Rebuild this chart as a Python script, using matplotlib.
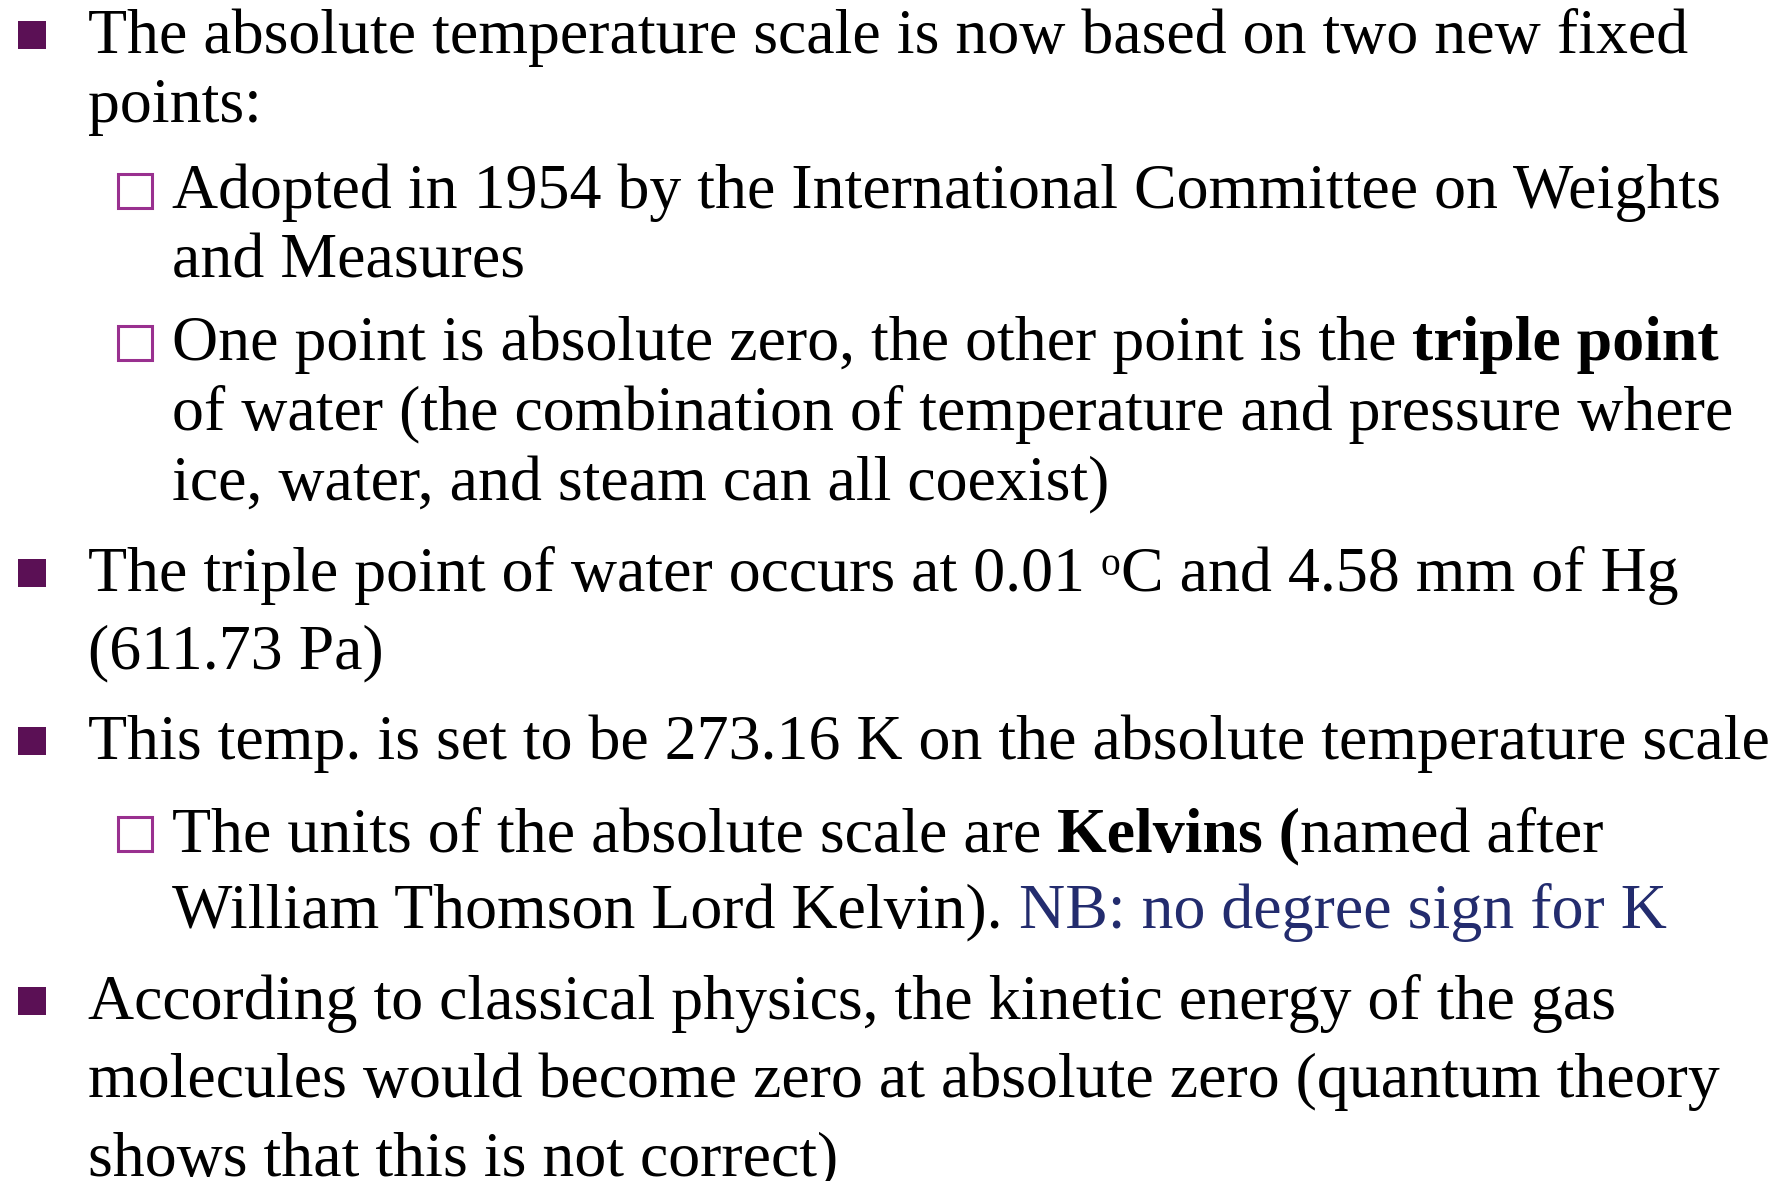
#!/usr/bin/env python3
"""Slide: absolute temperature scale, rebuilt as matplotlib text."""
import matplotlib
matplotlib.use("Agg")
import matplotlib.pyplot as plt
from matplotlib.patches import Rectangle

# ---- slide content -------------------------------------------------------
# each line: (bullet, list of runs); bullet 1 = filled square, 2 = hollow box,
# 0 = continuation line.  Run style: "n" normal, "b" bold, "sup" superscript,
# "blue" coloured note.
line_indent = [1, 1, 2, 2, 2, 2, 2, 1, 1, 1, 2, 2, 1, 1, 1]
line_bullet = [1, 0, 2, 0, 2, 0, 0, 1, 0, 1, 2, 0, 1, 0, 0]
line_runs = [
    [("The absolute temperature scale is now based on two new fixed", "n")],
    [("points:", "n")],
    [("Adopted in 1954 by the International Committee on Weights", "n")],
    [("and Measures", "n")],
    [("One point is absolute zero, the other point is the ", "n"),
     ("triple point", "b")],
    [("of water (the combination of temperature and pressure where", "n")],
    [("ice, water, and steam can all coexist)", "n")],
    [("The triple point of water occurs at 0.01 ", "n"), ("o", "sup"),
     ("C and 4.58 mm of Hg", "n")],
    [("(611.73 Pa)", "n")],
    [("This temp. is set to be 273.16 K on the absolute temperature scale", "n")],
    [("The units of the absolute scale are ", "n"), ("Kelvins (", "b"),
     ("named after", "n")],
    [("William Thomson Lord Kelvin). ", "n"),
     ("NB: no degree sign for K", "blue")],
    [("According to classical physics, the kinetic energy of the gas", "n")],
    [("molecules would become zero at absolute zero (quantum theory", "n")],
    [("shows that this is not correct)", "n")],
]

# ---- layout (pixels of the 1789x1181 slide) --------------------------------
W, H = 1789, 1181
baselines = [53, 122, 208, 278, 360, 430, 500, 591, 668, 759, 851, 928,
             1019, 1097, 1175]
text_x = {1: 88, 2: 172}
FS = 46
FONT = "Liberation Serif"
BULLET_FILL = "#5B1055"
BULLET_BOX = "#99308F"
NOTE_BLUE = "#232C6E"

styles = {
    "n": dict(fontsize=FS, color="black"),
    "b": dict(fontsize=FS, color="black", fontweight="bold"),
    "sup": dict(fontsize=FS * 0.62, color="black"),
    "blue": dict(fontsize=FS, color=NOTE_BLUE),
}

fig = plt.figure(figsize=(W / 100, H / 100), dpi=100)
ax = fig.add_axes([0, 0, 1, 1])
ax.set_xlim(0, W)
ax.set_ylim(H, 0)
ax.axis("off")
renderer = fig.canvas.get_renderer()


def advance(s, kw):
    # width of s including leading/trailing blanks, via sentinel letters
    t = ax.text(0, 0, "x" + s + "x", family=FONT, **kw)
    w1 = t.get_window_extent(renderer).width
    t.remove()
    t = ax.text(0, 0, "xx", family=FONT, **kw)
    w0 = t.get_window_extent(renderer).width
    t.remove()
    return w1 - w0


for ind, bul, runs, y in zip(line_indent, line_bullet, line_runs, baselines):
    if bul == 1:
        ax.add_patch(Rectangle((18, y - 32), 28, 28, facecolor=BULLET_FILL,
                               edgecolor="none"))
    elif bul == 2:
        ax.add_patch(Rectangle((117.5, y - 34.5), 34, 34, facecolor="none",
                               edgecolor=BULLET_BOX, linewidth=2.2))
    x = text_x[ind]
    for s, st in runs:
        kw = styles[st]
        dy = -16 if st == "sup" else 0
        ax.text(x, y + dy, s, family=FONT, ha="left", va="baseline", **kw)
        x += advance(s, kw)

fig.savefig("out.png", dpi=100)
